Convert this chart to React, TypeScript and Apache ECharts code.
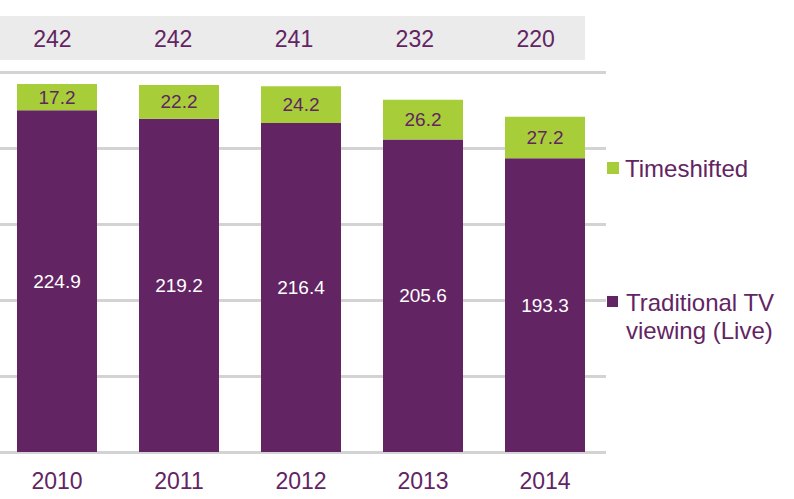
import { useEffect, useRef } from 'react';
import * as echarts from 'echarts';

const years = ['2010', '2011', '2012', '2013', '2014'];
const liveViewing = [224.9, 219.2, 216.4, 205.6, 193.3];
const timeshifted = [17.2, 22.2, 24.2, 26.2, 27.2];
const totals = ['242', '242', '241', '232', '220'];

const PURPLE = '#622463';
const GREEN = '#A7CE38';
const FONT = '"Liberation Sans", Arial, sans-serif';
// the chart div starts a few px left of the page so category bands can begin off-screen
const SHIFT = 8;

export default function App() {
  const chartRef = useRef<HTMLDivElement>(null);

  useEffect(() => {
    if (!chartRef.current) return;
    const chart = echarts.init(chartRef.current, undefined, { renderer: 'svg' });

    chart.setOption({
      animation: false,
      backgroundColor: '#ffffff',
      textStyle: { fontFamily: FONT },
      grid: [
        { left: 4, right: 188, top: 72, bottom: 47 },
        // totals row sits a touch left of the bars
        { left: 0, right: 198, top: 72, bottom: 47 },
      ],
      xAxis: [
        {
          type: 'category',
          gridIndex: 0,
          data: years,
          axisLine: { show: false },
          axisTick: { show: false },
          axisLabel: { color: PURPLE, fontSize: 23, margin: 17, fontFamily: FONT },
        },
        {
          type: 'category',
          gridIndex: 1,
          position: 'top',
          data: totals,
          axisLine: { show: false },
          axisTick: { show: false },
          axisLabel: { color: PURPLE, fontSize: 23, margin: 22, fontFamily: FONT },
        },
      ],
      yAxis: [
        {
          type: 'value',
          gridIndex: 0,
          min: 0,
          max: 250,
          interval: 50,
          axisLabel: { show: false },
          axisLine: { show: false },
          axisTick: { show: false },
          splitLine: { lineStyle: { color: '#D3D3D3', width: 3 } },
        },
        {
          type: 'value',
          gridIndex: 1,
          min: 0,
          max: 250,
          show: false,
        },
      ],
      series: [
        {
          name: 'Traditional TV viewing (Live)',
          type: 'bar',
          stack: 'total',
          barWidth: 80,
          data: liveViewing,
          itemStyle: { color: PURPLE },
          label: {
            show: true,
            position: 'inside',
            color: '#ffffff',
            fontSize: 19,
            fontFamily: FONT,
          },
        },
        {
          name: 'Timeshifted',
          type: 'bar',
          stack: 'total',
          barWidth: 80,
          data: timeshifted,
          itemStyle: { color: GREEN },
          label: {
            show: true,
            position: 'inside',
            color: PURPLE,
            fontSize: 19,
            fontFamily: FONT,
          },
        },
      ],
      graphic: [
        {
          type: 'rect',
          z: -10,
          shape: { x: SHIFT, y: 16, width: 585, height: 44 },
          style: { fill: '#EBEBEB' },
        },
        {
          type: 'rect',
          shape: { x: 607 + SHIFT, y: 162, width: 12, height: 12 },
          style: { fill: GREEN },
        },
        {
          type: 'text',
          x: 625 + SHIFT,
          y: 168,
          style: {
            text: 'Timeshifted',
            fill: PURPLE,
            font: `24px ${FONT}`,
            verticalAlign: 'middle',
          },
        },
        {
          type: 'rect',
          shape: { x: 607 + SHIFT, y: 296, width: 11, height: 11 },
          style: { fill: PURPLE },
        },
        {
          type: 'text',
          x: 626 + SHIFT,
          y: 288,
          style: {
            text: 'Traditional TV\nviewing (Live)',
            fill: PURPLE,
            font: `24px ${FONT}`,
            lineHeight: 28,
            verticalAlign: 'top',
          },
        },
      ],
    });

    return () => chart.dispose();
  }, []);

  return (
    <div
      ref={chartRef}
      style={{ position: 'fixed', left: -SHIFT, top: 0, width: 794 + SHIFT, height: 499 }}
    />
  );
}
